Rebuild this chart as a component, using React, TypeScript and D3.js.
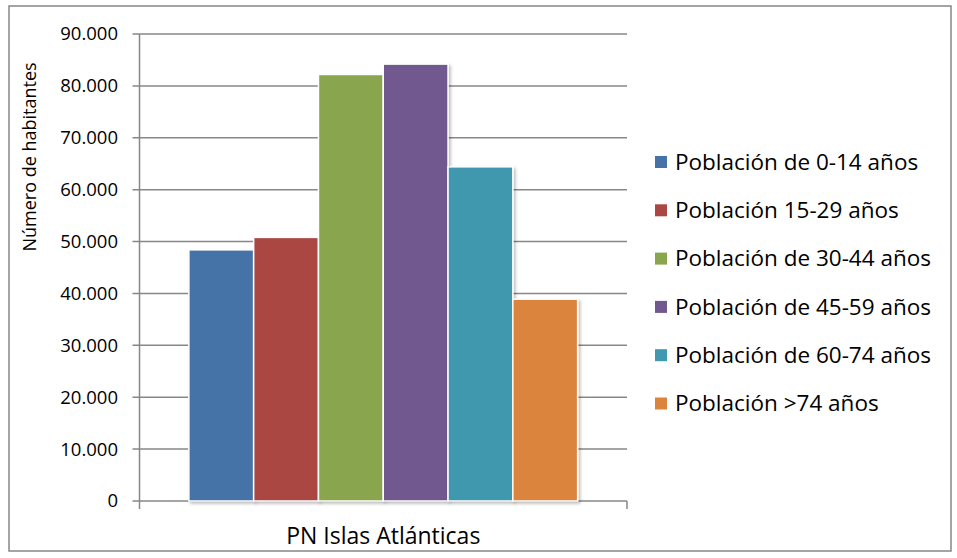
import React from "react";
import * as d3 from "d3";

const categories = ["PN Islas Atlánticas"];
const seriesNames = [
  "Población de 0-14 años",
  "Población 15-29 años",
  "Población de 30-44 años",
  "Población de 45-59 años",
  "Población de 60-74 años",
  "Población >74 años",
];
const seriesValues = [48400, 50800, 82200, 84200, 64400, 38900];
const seriesColors = ["#4572A7", "#AA4643", "#89A54E", "#71588F", "#4198AF", "#DB843D"];
const yTicks = [0, 10000, 20000, 30000, 40000, 50000, 60000, 70000, 80000, 90000];
const yTitle = "Número de habitantes";

const W = 957;
const H = 558;
const FONT = "'Open Sans', 'Liberation Sans', sans-serif";

export default function App() {
  const plotL = 139.5;
  const plotR = 627;
  const plotT = 34;
  const plotB = 501;

  const y = d3.scaleLinear().domain([0, 90000]).range([plotB, plotT]);
  const x0 = d3.scaleBand<string>().domain(categories).range([plotL, plotR]).paddingInner(0).paddingOuter(0.127);
  const x1 = d3.scaleBand<string>().domain(seriesNames).range([0, x0.bandwidth()]).padding(0);
  const fmt = (v: number) => (v === 0 ? "0" : d3.format(",")(v).replace(/,/g, "."));

  const legendX = 655;
  const legendY0 = 162;
  const legendStep = 48.3;

  return (
    <svg
      width={W}
      height={H}
      style={{ position: "fixed", left: 0, top: 0, background: "#fff" }}
      fontFamily={FONT}
    >
      <defs>
        <filter id="sh" x="-10%" y="-10%" width="130%" height="130%">
          <feDropShadow dx="2" dy="2" stdDeviation="1.5" floodColor="#000" floodOpacity="0.25" />
        </filter>
      </defs>
      <rect x={0} y={0} width={W} height={H} fill="#fff" />
      <rect x={9} y={6} width={942} height={545} fill="none" stroke="#878787" strokeWidth={1.5} />

      {/* gridlines */}
      {yTicks.map((t) => (
        <line key={"g" + t} x1={plotL - 7} x2={plotR} y1={y(t)} y2={y(t)} stroke="#878787" strokeWidth={1.5} />
      ))}
      {/* axes */}
      <line x1={plotL} x2={plotL} y1={plotT} y2={plotB + 8} stroke="#878787" strokeWidth={1.5} />
      <line x1={plotR} x2={plotR} y1={plotB} y2={plotB + 8} stroke="#878787" strokeWidth={1.5} />
      {yTicks.map((t) => (
        <text key={"t" + t} x={118} y={y(t)} dy="0.35em" textAnchor="end" fontSize={18.5} fill="#000">
          {fmt(t)}
        </text>
      ))}

      {/* bars */}
      {categories.map((c) => (
        <g key={c} transform={`translate(${x0(c)},0)`}>
          {seriesNames.map((s, i) => (
            <rect
              key={s}
              x={x1(s)!}
              y={y(seriesValues[i])}
              width={x1.bandwidth()}
              height={plotB - y(seriesValues[i])}
              fill={seriesColors[i]}
              stroke="#fff"
              strokeWidth={1.5}
              filter="url(#sh)"
            />
          ))}
        </g>
      ))}

      {/* x label */}
      {categories.map((c) => (
        <text key={"x" + c} x={x0(c)! + x0.bandwidth() / 2} y={544} textAnchor="middle" fontSize={23} fill="#000">
          {c}
        </text>
      ))}

      {/* y title */}
      <text transform={`translate(36,157) rotate(-90)`} textAnchor="middle" fontSize={18} fill="#000">
        {yTitle}
      </text>

      {/* legend */}
      {seriesNames.map((s, i) => (
        <g key={"l" + s} transform={`translate(${legendX},${legendY0 + i * legendStep})`}>
          <rect x={0} y={-6} width={12} height={12} fill={seriesColors[i]} />
          <text x={20} y={0} dy="0.35em" fontSize={22.5} fill="#000">
            {s}
          </text>
        </g>
      ))}
    </svg>
  );
}
